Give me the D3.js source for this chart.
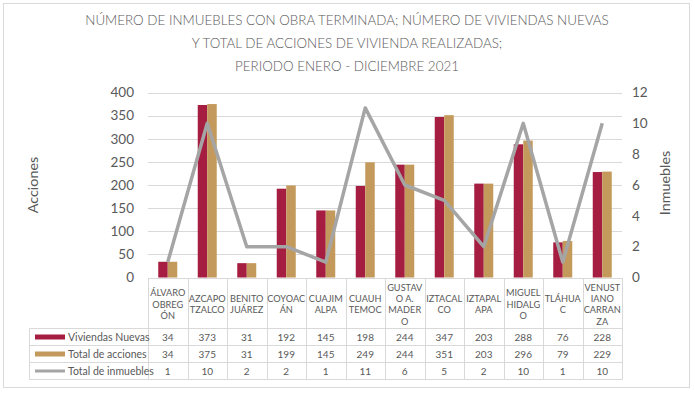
<!DOCTYPE html>
<html><head><meta charset="utf-8">
<script src="https://cdn.jsdelivr.net/npm/d3@7"></script>
<style>body{margin:0;background:#fff}svg{display:block}text{font-family:Lato,"Open Sans",sans-serif}</style>
</head><body><svg id="c" width="695" height="395"></svg>
<script>
const categories = ["ÁLVARO OBREGÓN","AZCAPOTZALCO","BENITO JUÁREZ","COYOACÁN","CUAJIMALPA","CUAUHTEMOC","GUSTAVO A. MADERO","IZTACALCO","IZTAPALAPA","MIGUEL HIDALGO","TLÁHUAC","VENUSTIANO CARRANZA"];
const categoryLabelLines = [["ÁLVARO","OBREG","ÓN"],["AZCAPO","TZALCO"],["BENITO","JUÁREZ"],["COYOAC","ÁN"],["CUAJIM","ALPA"],["CUAUH","TEMOC"],["GUSTAV","O A.","MADER","O"],["IZTACAL","CO"],["IZTAPAL","APA"],["MIGUEL","HIDALG","O"],["TLÁHUA","C"],["VENUST","IANO","CARRAN","ZA"]];
const viviendasNuevas = [34,373,31,192,145,198,244,347,203,288,76,228];
const totalAcciones = [34,375,31,199,145,249,244,351,203,296,79,229];
const totalInmuebles = [1,10,2,2,1,11,6,5,2,10,1,10];
const leftTicks = [0,50,100,150,200,250,300,350,400];
const rightTicks = [0,2,4,6,8,10,12];
const titleLines = ["NÚMERO DE INMUEBLES CON OBRA TERMINADA; NÚMERO DE VIVIENDAS NUEVAS","Y TOTAL DE ACCIONES DE VIVIENDA REALIZADAS;","PERIODO ENERO - DICIEMBRE 2021"];
const seriesNames = ["Viviendas Nuevas","Total de acciones","Total de inmuebles"];
const colRed = "#A51E42", colTan = "#C49A5C", colGray = "#A5A5A5", txt = "#595959", grid = "#D9D9D9";

const svg = d3.select("#c");
svg.append("rect").attr("x",3.5).attr("y",3.5).attr("width",686).attr("height",384)
  .attr("fill","#fff").attr("stroke","#D9D9D9");

const L = 148, R = 622, T = 92.5, B = 277.5;
const x = d3.scaleBand().domain(categories).range([L,R]).paddingInner(0).paddingOuter(0);
const yL = d3.scaleLinear().domain([0,400]).range([B,T]);
const yR = d3.scaleLinear().domain([0,12]).range([B,T]);

// title
svg.append("g").selectAll("text").data(titleLines).join("text")
  .attr("x",347).attr("y",(d,i)=>25+i*23).attr("text-anchor","middle")
  .attr("font-size",13.4).attr("font-weight",300).attr("fill",txt).text(d=>d);

// gridlines
svg.append("g").selectAll("line").data(leftTicks.slice(1)).join("line")
  .attr("x1",L).attr("x2",R).attr("y1",d=>Math.round(yL(d))+0.5).attr("y2",d=>Math.round(yL(d))+0.5)
  .attr("stroke",grid).attr("stroke-width",1);

// left axis
const gL = svg.append("g").attr("transform",`translate(${L},0)`)
  .call(d3.axisLeft(yL).tickValues(leftTicks).tickSize(0).tickPadding(14));
gL.select(".domain").remove();
gL.selectAll("text").attr("font-size",13.5).attr("fill",txt).attr("font-family","Lato,sans-serif");

const gR = svg.append("g").attr("transform",`translate(${R},0)`)
  .call(d3.axisRight(yR).tickValues(rightTicks).tickSize(0).tickPadding(10));
gR.select(".domain").remove();
gR.selectAll("text").attr("font-size",13.5).attr("fill",txt).attr("font-family","Lato,sans-serif");

svg.append("text").attr("transform","translate(38,185) rotate(-90)").attr("text-anchor","middle")
  .attr("font-size",14.3).attr("fill",txt).text("Acciones");
svg.append("text").attr("transform","translate(670,183) rotate(-90)").attr("text-anchor","middle")
  .attr("font-size",14.3).attr("fill",txt).text("Inmuebles");

// bars
const bw = 9.5;
const bars = svg.append("g");
bars.selectAll(".r").data(categories).join("rect")
  .attr("x",(d)=>x(d)+x.bandwidth()/2-bw).attr("width",bw)
  .attr("y",(d,i)=>yL(viviendasNuevas[i])).attr("height",(d,i)=>B-yL(viviendasNuevas[i]))
  .attr("fill",colRed);
bars.selectAll(".t").data(categories).join("rect")
  .attr("x",(d)=>x(d)+x.bandwidth()/2).attr("width",bw)
  .attr("y",(d,i)=>yL(totalAcciones[i])).attr("height",(d,i)=>B-yL(totalAcciones[i]))
  .attr("fill",colTan);

// line
const line = d3.line().x((d,i)=>x(categories[i])+x.bandwidth()/2).y(d=>yR(d));
svg.append("path").datum(totalInmuebles).attr("d",line).attr("fill","none")
  .attr("stroke",colGray).attr("stroke-width",3.5).attr("stroke-linejoin","round");

// data table
const rowTop = 278, hdrB = 328.5, rowH = 17;
const rowsY = [hdrB, hdrB+rowH, hdrB+2*rowH, hdrB+3*rowH];
const tb = svg.append("g").attr("stroke",grid).attr("stroke-width",1).attr("fill","none");
tb.append("line").attr("x1",L).attr("x2",R).attr("y1",rowTop+0.5).attr("y2",rowTop+0.5);
rowsY.forEach(yy=>tb.append("line").attr("x1",29.5).attr("x2",R).attr("y1",yy).attr("y2",yy));
const bounds = categories.map(c=>x(c)).concat([R]);
bounds.forEach(bx=>tb.append("line").attr("x1",Math.round(bx)+0.5).attr("x2",Math.round(bx)+0.5).attr("y1",rowTop).attr("y2",rowsY[3]));
tb.append("line").attr("x1",29.5).attr("x2",29.5).attr("y1",hdrB).attr("y2",rowsY[3]);

// header labels
const lh = 11.3;
categories.forEach((c,i)=>{
  const lines = categoryLabelLines[i];
  const cy = (rowTop+hdrB)/2 + 1;
  const y0 = cy - (lines.length-1)*lh/2 + 3.3;
  svg.append("g").selectAll("text").data(lines).join("text")
    .attr("x",x(c)+x.bandwidth()/2).attr("y",(d,j)=>y0+j*lh).attr("text-anchor","middle")
    .attr("font-size",9.2).attr("fill",txt).text(d=>d);
});

// values
const allSeries = [viviendasNuevas,totalAcciones,totalInmuebles];
allSeries.forEach((s,r)=>{
  svg.append("g").selectAll("text").data(s).join("text")
    .attr("x",(d,i)=>x(categories[i])+x.bandwidth()/2).attr("y",rowsY[r]+rowH/2+3.6)
    .attr("text-anchor","middle").attr("font-size",10).attr("fill",txt).text(d=>d);
});

// legend keys
const keyCols = [colRed,colTan,colGray];
seriesNames.forEach((n,r)=>{
  const cy = rowsY[r]+rowH/2;
  svg.append("rect").attr("x",35).attr("y",cy-(r<2?2.5:1.5)).attr("width",30).attr("height",r<2?5:3).attr("fill",keyCols[r]);
  svg.append("text").attr("x",68).attr("y",cy+3.6).attr("font-size",10.5).attr("fill",txt).text(n);
});
</script></body></html>
